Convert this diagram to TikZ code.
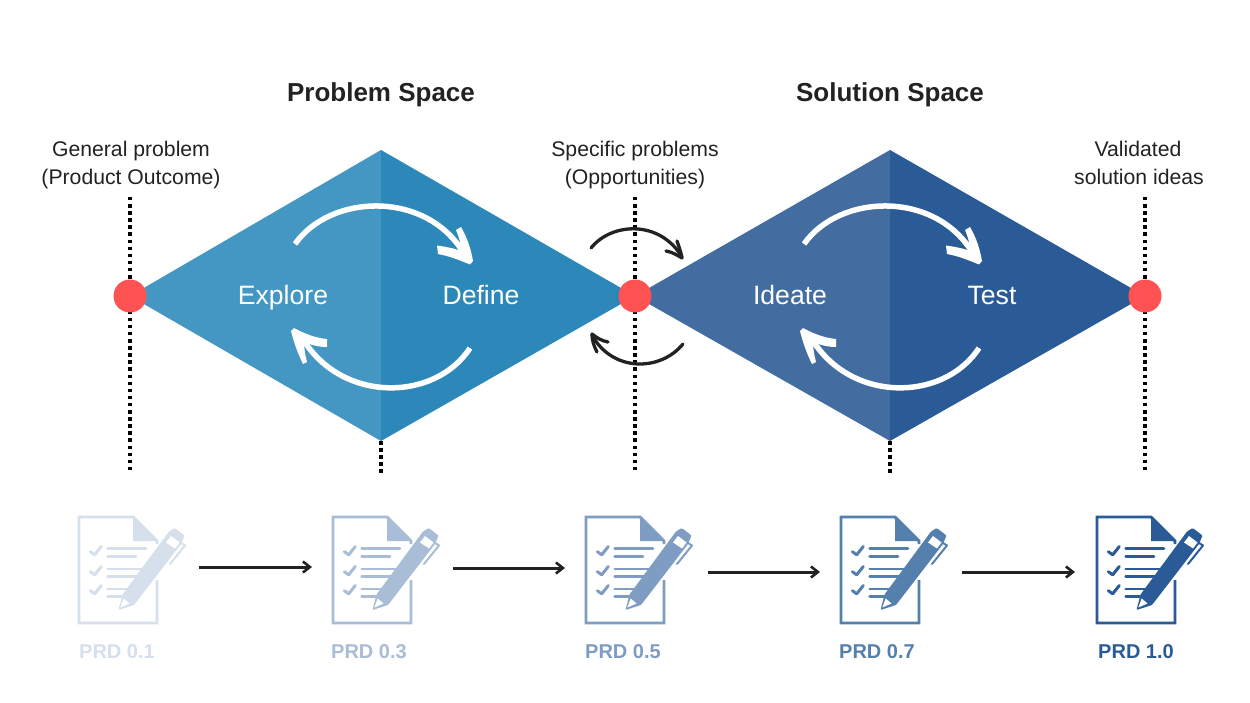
\documentclass[tikz,border=0pt]{standalone}
\usepackage{fontspec}
\setmainfont{Liberation Sans}
\usetikzlibrary{arrows.meta}
\definecolor{pa}{HTML}{4497C2}
\definecolor{pb}{HTML}{2B88B9}
\definecolor{sa}{HTML}{436DA0}
\definecolor{sb}{HTML}{2A5B96}
\definecolor{redd}{HTML}{FF5252}
\definecolor{ink}{HTML}{222222}
\definecolor{da}{HTML}{D6E0EC}
\definecolor{db}{HTML}{A9BDD6}
\definecolor{dc}{HTML}{7F9DC2}
\definecolor{dd}{HTML}{5580AE}
\definecolor{de}{HTML}{2A5B96}
\tikzset{
  dotline/.style={draw=black,line width=3.2pt,dash pattern=on 3.5pt off 3.6pt},
  whitearc/.style={draw=white,line width=5.5pt,line cap=butt},
  blackarc/.style={draw=ink,line width=3.3pt,line cap=round,line join=round},
  head/.style={font=\bfseries\fontsize{26}{30}\selectfont,text=ink,anchor=base,inner sep=0pt},
  lab/.style={font=\fontsize{21.2}{28}\selectfont,text=ink,anchor=base,inner sep=0pt},
  inner/.style={font=\fontsize{26.6}{30}\selectfont,text=white,anchor=base,inner sep=0pt},
  prd/.style={font=\bfseries\fontsize{20}{22}\selectfont,anchor=base,inner sep=0pt},
  flow/.style={draw=ink,line width=3pt,-{Straight Barb[length=7pt,width=11pt,line width=2.6pt]}},
  redpt/.style={circle,fill=redd,minimum size=33pt,inner sep=0pt},
}
\newcommand{\prdicon}[3]{%
\begin{scope}[shift={(#1,#2)}]
 \draw[#3,line width=2.9pt,miter limit=10] (78,27) -- (78,24) -- (54,0) -- (0,0) -- (0,106) -- (78,106) -- (78,63);
 \fill[#3] (54,0) -- (78,24) -- (54,24) -- cycle;
 \foreach \dy in {0,20,39}{
  \draw[#3,line width=3pt,line cap=round,line join=round] (11.3,34.7+\dy) -- (15.7,37.8+\dy) -- (22.3,29.5+\dy);
 }
 \draw[#3,line width=2.8pt,line cap=round]
   (28.7,31.3) -- (67,31.3) (28.7,39.7) -- (57,39.7)
   (28.7,52) -- (64,52) (28.7,59.7) -- (58,59.7)
   (28.7,72) -- (48,72) (28.7,79.7) -- (43,79.7);
 \fill[#3,rounded corners=1pt] (39.5,93) -- (43.5,77.5) -- (90,14.5) -- (95.7,11) -- (105.5,18.5) -- (102,27) -- (55,88) -- cycle;
 \fill[white] (41.3,90.5) -- (44.7,81.5) -- (50.5,86.5) -- cycle;
 \fill[white] (87,25.5) -- (92,19) -- (100.5,25.5) -- (96,31.5) -- cycle;
 \draw[#3,line width=2pt,line cap=round,line join=round] (102,26) -- (106,28.5) -- (91,47);
\end{scope}}
\begin{document}
\begin{tikzpicture}[x=1pt,y=-1pt]
\useasboundingbox (0,0) rectangle (1250,703);
\fill[white] (0,0) rectangle (1250,703);
\coordinate (d1) at (130,296); \coordinate (d2) at (635,296); \coordinate (d3) at (1145,296);
\coordinate (g1t) at (130,197); \coordinate (g1b) at (130,473);
\coordinate (g2t) at (381,441); \coordinate (g2b) at (381,473);
\coordinate (g3t) at (635,197); \coordinate (g3b) at (635,473);
\coordinate (g4t) at (890,441); \coordinate (g4b) at (890,473);
\coordinate (g5t) at (1145,197); \coordinate (g5b) at (1145,473);
\draw[dotline] (g1t) -- (g1b);
\draw[dotline] (g2t) -- (g2b);
\draw[dotline] (g3t) -- (g3b);
\draw[dotline] (g4t) -- (g4b);
\draw[dotline] (g5t) -- (g5b);
\fill[pa] (130,296) -- (381,150) -- (381,441) -- cycle;
\fill[pb] (381,150) -- (635,296) -- (381,441) -- cycle;
\fill[sa] (635,296) -- (890,150) -- (890,441) -- cycle;
\fill[sb] (890,150) -- (1145,296) -- (890,441) -- cycle;
\node[redpt] (r1) at (d1) {};
\node[redpt] (r2) at (d2) {};
\node[redpt] (r3) at (d3) {};
\foreach \dx in {0,509}{
\begin{scope}[shift={(\dx,0)}]
 \draw[whitearc] (295,244) .. controls (330,194) and (425,190) .. (463,252);
 \fill[white] (437,245.5) .. controls (448,247) and (456,249) .. (461,251) .. controls (461,244) and (459,237) .. (456,230) -- (461,227) .. controls (467,237) and (471,249) .. (473,261) -- (470,264.5) .. controls (459,260) and (449,256) .. (438,254) -- cycle;
 \draw[whitearc] (470,348) .. controls (435,402) and (340,404) .. (301,336);
 \fill[white] (327,339) .. controls (316,338) and (305,334) .. (294,328) -- (291,331) .. controls (294,343) and (298,354) .. (303,364) -- (307,362) .. controls (305,355) and (304,347) .. (304,342) .. controls (311,345) and (319,347) .. (327,347) -- cycle;
\end{scope}}
\draw[blackarc] (591,248) .. controls (612,222) and (660,220) .. (682,257);
\draw[blackarc] (666,251) .. controls (672,252) and (677,255) .. (682,258) .. controls (681,252) and (679,247) .. (677,241);
\draw[blackarc] (683,344) .. controls (660,372) and (612,372) .. (592,335);
\draw[blackarc] (608,342) .. controls (602,341) and (597,338) .. (592,334) .. controls (592,341) and (594,346) .. (597,352);
\node[head] (h1) at (381,102) {Problem Space};
\node[head] (h2) at (890,102) {Solution Space};
\node[lab] (l1a) at (131,157) {General problem};
\node[lab] (l1b) at (131,185) {(Product Outcome)};
\node[lab] (l2a) at (635,157) {Specific problems};
\node[lab] (l2b) at (635,185) {(Opportunities)};
\node[lab] (l3a) at (1138,157) {Validated};
\node[lab] (l3b) at (1139,185) {solution ideas};
\node[inner] (t1) at (283,305) {Explore};
\node[inner] (t2) at (481,305) {Define};
\node[inner] (t3) at (790,305) {Ideate};
\node[inner] (t4) at (992,305) {Test};
\prdicon{79}{517}{da}
\prdicon{333}{517}{db}
\prdicon{586}{517}{dc}
\prdicon{841}{517}{dd}
\prdicon{1097}{517}{de}
\node[prd,text=da] (p1) at (117,658) {PRD 0.1};
\node[prd,text=db] (p2) at (369,658) {PRD 0.3};
\node[prd,text=dc] (p3) at (623,658) {PRD 0.5};
\node[prd,text=dd] (p4) at (877,658) {PRD 0.7};
\node[prd,text=de] (p5) at (1136,658) {PRD 1.0};
\coordinate (a1) at (199,567); \coordinate (a2) at (312,567);
\coordinate (b1) at (453,568); \coordinate (b2) at (565,568);
\coordinate (c1) at (708,572); \coordinate (c2) at (820,572);
\coordinate (e1) at (962,572); \coordinate (e2) at (1075,572);
\draw[flow] (a1) -- (a2);
\draw[flow] (b1) -- (b2);
\draw[flow] (c1) -- (c2);
\draw[flow] (e1) -- (e2);
\end{tikzpicture}
\end{document}
